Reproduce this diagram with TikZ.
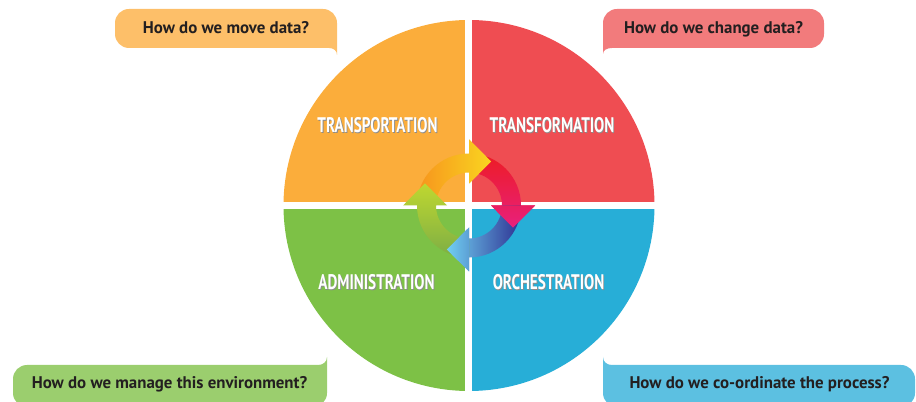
\documentclass[tikz,border=0pt]{standalone}
\usepackage{fontspec}
\setmainfont{PT Sans}
\newfontfamily\quadfont[FakeStretch=0.72]{PT Sans}

\definecolor{quadOrange}{HTML}{FBAD3B}
\definecolor{quadRed}{HTML}{EF4D52}
\definecolor{quadGreen}{HTML}{7DC146}
\definecolor{quadBlue}{HTML}{27AED7}
\definecolor{bubOrange}{HTML}{FDBF69}
\definecolor{bubRed}{HTML}{F27B7C}
\definecolor{bubGreen}{HTML}{9BCE6E}
\definecolor{bubBlue}{HTML}{5CC0E1}
\definecolor{qtext}{HTML}{231F20}
\definecolor{arOrange}{HTML}{F7941D}
\definecolor{arYellow}{HTML}{F9D520}
\definecolor{arRed}{HTML}{ED1C24}
\definecolor{arPink}{HTML}{E8207C}
\definecolor{arNavy}{HTML}{2E3192}
\definecolor{arCyan}{HTML}{70CFF2}
\definecolor{arGreen}{HTML}{7DAE45}
\definecolor{arLime}{HTML}{BFD730}

\tikzset{
  question/.style={anchor=base,text=qtext,font=\bfseries\fontsize{9.6}{11}\selectfont},
  quadlabel/.style={text=white,font=\quadfont\bfseries\fontsize{12}{14}\selectfont},
  quadshadow/.style={text=black!45,font=\quadfont\bfseries\fontsize{12}{14}\selectfont}
}

\newcommand{\arrowpath}[1]{(#1:52) arc[start angle=#1,end angle=#1-90,radius=52] -- ({#1-90}:66) -- ({#1-116.6}:49.2) -- ({#1-90}:22) -- ({#1-90}:33) arc[start angle=#1-90,end angle=#1,radius=33] -- cycle}

\begin{document}
\begin{tikzpicture}[x=0.02cm,y=0.02cm]
\useasboundingbox (0,0) rectangle (916,402);
\clip (0,0) rectangle (916,402);
\coordinate (c) at (469,196.5);

\fill[quadOrange] (c) -- ++(90:185.5) arc[start angle=90,end angle=180,radius=185.5] -- cycle;
\fill[quadRed] (c) -- ++(0:185.5) arc[start angle=0,end angle=90,radius=185.5] -- cycle;
\fill[quadGreen] (c) -- ++(180:185.5) arc[start angle=180,end angle=270,radius=185.5] -- cycle;
\fill[quadBlue] (c) -- ++(270:185.5) arc[start angle=270,end angle=360,radius=185.5] -- cycle;
\fill[white] (465.3,5) rectangle (472,390); \fill[white] (278,193) rectangle (660,200);

\fill[bubOrange] (337,347) -- (337,379) arc[start angle=0,end angle=90,radius=14] -- (129,393) arc[start angle=90,end angle=180,radius=14] -- (115,368) arc[start angle=180,end angle=270,radius=14] -- (329,354) .. controls (334,354) and (337,351) .. (337,347) -- cycle;
\fill[bubRed] (603,348) -- (603,379) arc[start angle=180,end angle=90,radius=14] -- (810,393) arc[start angle=90,end angle=0,radius=14] -- (824,368) arc[start angle=0,end angle=-90,radius=14] -- (612,354) .. controls (607,354) and (603,352) .. (603,348) -- cycle;
\fill[bubGreen] (327,45) -- (327,9) arc[start angle=0,end angle=-90,radius=14] -- (27,-5) arc[start angle=-90,end angle=-180,radius=14] -- (13,23) arc[start angle=180,end angle=90,radius=14] -- (318,37) .. controls (323,37) and (327,40) .. (327,45) -- cycle;
\fill[bubBlue] (603,45) -- (603,9) arc[start angle=180,end angle=270,radius=14] -- (901,-5) arc[start angle=270,end angle=360,radius=14] -- (915,23) arc[start angle=0,end angle=90,radius=14] -- (612,37) .. controls (607,37) and (603,40) .. (603,45) -- cycle;

\node[question] (qmove) at (226,368) {How do we move data?};
\node[question] (qchange) at (713.5,368) {How do we change data?};
\node[question] (qmanage) at (169.5,13) {How do we manage this environment?};
\node[question] (qcoord) at (759.5,13) {How do we co-ordinate the process?};

\node[quadshadow] (transpS) at (378.3,276.2) {TRANSPORTATION}; \node[quadlabel] (transp) at (377.5,277) {TRANSPORTATION};
\node[quadshadow] (transfS) at (552.8,276.2) {TRANSFORMATION}; \node[quadlabel] (transf) at (552,277) {TRANSFORMATION};
\node[quadshadow] (adminS) at (377.3,118.7) {ADMINISTRATION}; \node[quadlabel] (admin) at (376.5,119.5) {ADMINISTRATION};
\node[quadshadow] (orchS) at (549.3,118.7) {ORCHESTRATION}; \node[quadlabel] (orch) at (548.5,119.5) {ORCHESTRATION};

\begin{scope}[shift={(c)}]
\foreach \a/\tl/\hd/\sa in {180/arOrange/arYellow/-90,90/arRed/arPink/180,0/arNavy/arCyan/90,-90/arGreen/arLime/0}
  \shade[bottom color=\tl,top color=\hd,shading angle=\sa] \arrowpath{\a};
\foreach \a/\tl/\hd/\sa in {180/arOrange/arYellow/-90,90/arRed/arPink/180,0/arNavy/arCyan/90}{
  \begin{scope}
    \clip (0,0) -- ({\a-90}:75) arc[start angle=\a-90,end angle=\a-135,radius=75] -- cycle;
    \shade[bottom color=\tl,top color=\hd,shading angle=\sa] \arrowpath{\a};
  \end{scope}
}
\end{scope}
\end{tikzpicture}
\end{document}
